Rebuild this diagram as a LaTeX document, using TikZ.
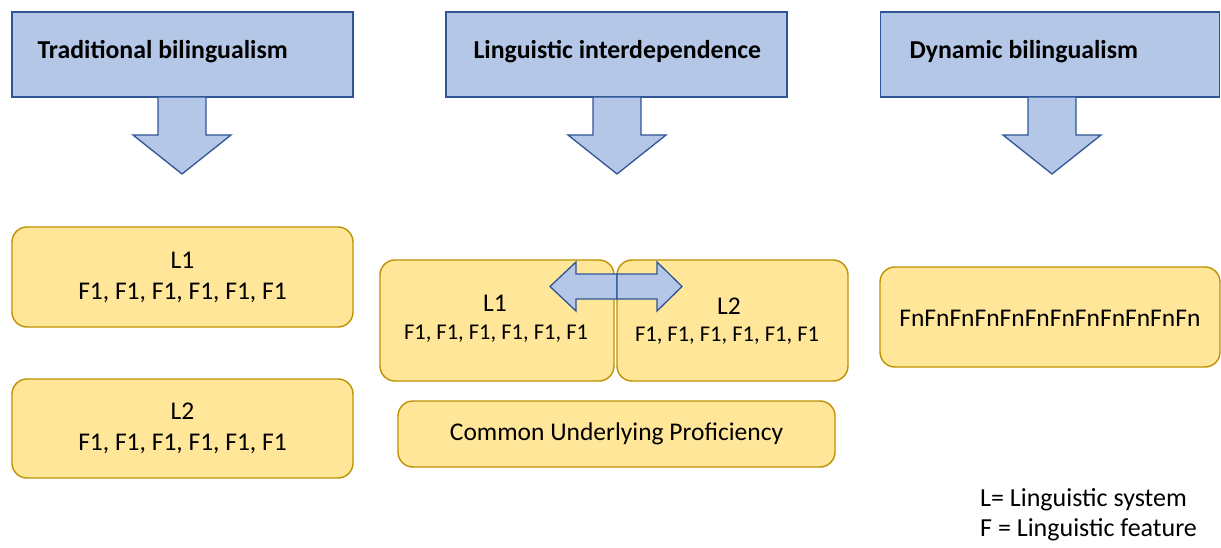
\documentclass[tikz,border=0pt]{standalone}
\usepackage{fontspec}
\setmainfont{Carlito}
\usepackage{tikz}
\usetikzlibrary{positioning}

\definecolor{headfill}{HTML}{B4C7E7}
\definecolor{headline}{HTML}{2F5597}
\definecolor{langfill}{HTML}{FFE699}
\definecolor{langline}{HTML}{BF9000}

\tikzset{
    headbox/.style={draw=headline, fill=headfill, line width=1.3pt,
        minimum width=341pt, minimum height=85pt, inner sep=0pt},
    headtext/.style={font=\fontsize{25.8}{30}\selectfont\bfseries, anchor=west},
    langbox/.style={draw=langline, fill=langfill, line width=1.4pt,
        rounded corners=15pt, inner sep=0pt},
    langtext/.style={font=\fontsize{25.5}{31}\selectfont, align=center},
    smalltext/.style={font=\fontsize{22.5}{31}\selectfont, align=center},
    blockarrow/.style={draw=headline, fill=headfill, line width=1.3pt}
}

% down arrow below a heading box, centred at x = #1
\newcommand{\blockdown}[1]{
    \draw[blockarrow] (#1-24, 97) -- (#1-24, 135) -- (#1-49, 135) -- (#1, 174)
        -- (#1+49, 135) -- (#1+24, 135) -- (#1+24, 97) -- cycle;
}

\begin{document}
\begin{tikzpicture}[x=1pt, y=-1pt]
    \useasboundingbox (0, 0) rectangle (1221, 548);

    % headings
    \node[headbox] (trad) at (182.5, 54.5) {};
    \node[headbox] (inter) at (616.5, 54.5) {};
    \node[headbox, minimum width=339pt] (dyn) at (1050, 54.5) {};
    \node[headtext] (tradlab) at (34, 52) {Traditional bilingualism};
    \node[headtext] (interlab) at (470, 52) {Linguistic interdependence};
    \node[headtext] (dynlab) at (906, 52) {Dynamic bilingualism};

    \blockdown{182}
    \blockdown{617}
    \blockdown{1052}

    % traditional bilingualism
    \node[langbox, minimum width=341pt, minimum height=100pt] (tradA) at (182.5, 277) {};
    \node[langtext] (tradAlab) at (182.5, 277) {L1\\F1, F1, F1, F1, F1, F1};
    \node[langbox, minimum width=341pt, minimum height=99pt] (tradB) at (182.5, 428.5) {};
    \node[langtext] (tradBlab) at (182.5, 428.5) {L2\\F1, F1, F1, F1, F1, F1};

    % linguistic interdependence
    \node[langbox, minimum width=234pt, minimum height=121pt] (interA) at (497, 320.5) {};
    \node[langbox, minimum width=231pt, minimum height=121pt] (interB) at (732.5, 320.5) {};
    \node[langtext] (interAname) at (495, 303) {L1};
    \node[smalltext] (interAfeat) at (496, 334) {F1, F1, F1, F1, F1, F1};
    \node[langtext] (interBname) at (729, 306) {L2};
    \node[smalltext] (interBfeat) at (727, 336) {F1, F1, F1, F1, F1, F1};
    \draw[blockarrow] (617, 274) -- (576, 274) -- (576, 262) -- (550, 286.5)
        -- (576, 311) -- (576, 299) -- (617, 299) -- cycle;
    \draw[blockarrow] (617, 274) -- (657, 274) -- (657, 262) -- (682, 286.5)
        -- (657, 311) -- (657, 299) -- (617, 299) -- cycle;
    \node[langbox, minimum width=437pt, minimum height=66pt] (cup) at (616.5, 434) {};
    \node[langtext] (cuplab) at (616.5, 434) {Common Underlying Proficiency};

    % dynamic bilingualism
    \node[langbox, minimum width=340pt, minimum height=100pt] (dynbox) at (1050, 317) {};
    \node[langtext] (dynlab2) at (1050, 318) {FnFnFnFnFnFnFnFnFnFnFnFn};

    % legend
    \node[font=\fontsize{26}{30}\selectfont, align=left, anchor=west, inner sep=0pt] (legend) at (980, 515)
        {L= Linguistic system\\F = Linguistic feature};
\end{tikzpicture}
\end{document}
